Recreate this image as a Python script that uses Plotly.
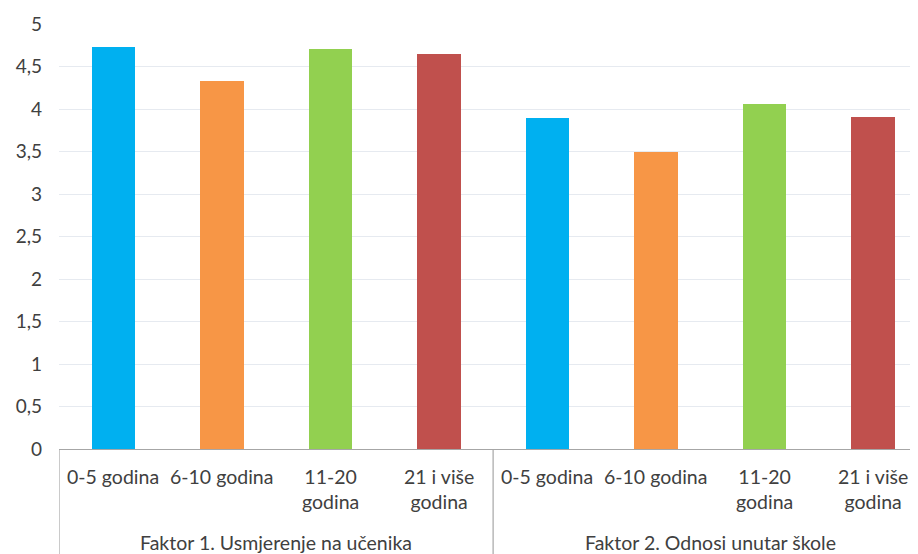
import plotly.graph_objects as go

groups = ["Faktor 1. Usmjerenje na učenika", "Faktor 2. Odnosi unutar škole"]
categories = ["0-5 godina", "6-10 godina", "11-20<br>godina", "21 i više<br>godina"]
factor1_values = [4.73, 4.33, 4.71, 4.65]
factor2_values = [3.89, 3.50, 4.06, 3.91]
bar_colors = ["#00b0f0", "#f79646", "#92d050", "#c0504d"]
y_ticks = [0, 0.5, 1, 1.5, 2, 2.5, 3, 3.5, 4, 4.5, 5]

FONT = "Lato"
TXT = "#404040"
n = len(categories)

fig = go.Figure()
for i, cat in enumerate(categories):
    vals = [factor1_values[i], factor2_values[i]]
    xs = [g * n + i for g in range(len(groups))]
    fig.add_trace(go.Bar(x=xs, y=vals, width=0.4, marker_color=bar_colors[i],
                         marker_line_width=0, name=cat, showlegend=False))

# category labels
for g in range(len(groups)):
    for i, cat in enumerate(categories):
        fig.add_annotation(x=g * n + i, y=0, xref="x", yref="y", text=cat,
                           showarrow=False, yanchor="top", yshift=-14,
                           font=dict(family=FONT, size=19.5, color=TXT))
    fig.add_annotation(x=g * n + (n - 1) / 2, y=0, xref="x", yref="y", text=groups[g],
                       showarrow=False, yanchor="top", yshift=-80,
                       font=dict(family=FONT, size=19.5, color=TXT))

plot_h = 449 - 24
for g in range(len(groups) + 1):
    fig.add_shape(type="line", xref="x", yref="paper", x0=g * n - 0.5, x1=g * n - 0.5,
                  y0=0, y1=-110 / plot_h, line=dict(color="#a6a6a6", width=1.2))

fig.update_layout(
    width=910, height=546,
    margin=dict(l=51, r=0, t=16, b=105),
    paper_bgcolor="white", plot_bgcolor="white",
    separators=",.",
    bargap=0,
)
fig.update_xaxes(range=[-0.5, 7.415], showticklabels=False, showgrid=False, zeroline=False,
                 showline=True, linecolor="#a6a6a6", linewidth=1.2, ticks="")
fig.update_yaxes(range=[0, 5], tickvals=y_ticks, showgrid=True, gridcolor="#e6eaf0", gridwidth=1.2,
                 zeroline=False, showline=False, ticks="", ticklabelstandoff=16,
                 tickfont=dict(family=FONT, size=19, color=TXT))

fig.write_html("out.html")
